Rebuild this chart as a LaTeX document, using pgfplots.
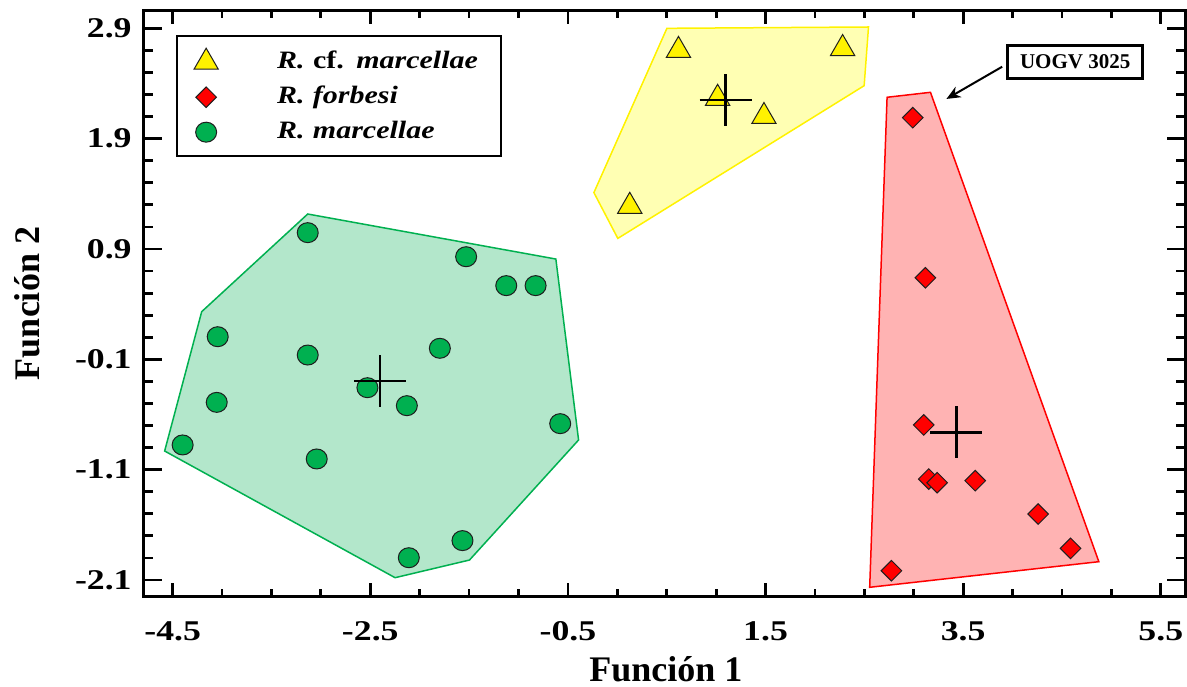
\documentclass[border=0pt]{standalone}
\usepackage{fontspec}
\setmainfont{Liberation Serif}
\newfontfamily\widefont{Liberation Serif}[FakeStretch=1.25]
\newfontfamily\legfont{Liberation Serif}[FakeStretch=1.2]
\usepackage{pgfplots}
\pgfplotsset{compat=1.18}
\usetikzlibrary{arrows.meta}
\definecolor{mgreen}{RGB}{0,176,80}
\definecolor{gfill}{RGB}{179,231,203}
\definecolor{rfill}{RGB}{255,179,179}
\definecolor{yfill}{RGB}{255,255,179}
\definecolor{medge}{RGB}{30,30,30}
\begin{document}
\begin{tikzpicture}
\begin{axis}[
  at={(0,0)}, anchor=south west,
  scale only axis,
  width=520.5pt, height=292.5pt,
  xmin=-4.79, xmax=5.745, ymin=-2.245, ymax=3.057,
  xtick={-4.5,-2.5,-0.5,1.5,3.5,5.5},
  xticklabels={-4.5,-2.5,-0.5,1.5,3.5,5.5},
  minor xtick={-4.5,-4,...,5.5},
  ytick={-2.1,-1.1,-0.1,0.9,1.9,2.9},
  yticklabels={-2.1,-1.1,-0.1,0.9,1.9,2.9},
  minor ytick={-2.1,-1.9,...,3.0},
  axis line style={line width=1.5pt},
  every tick/.style={black, line width=1.4pt},
  major x tick style={/pgfplots/major tick length=6.5pt},
  minor x tick style={/pgfplots/minor tick length=3.5pt},
  major y tick style={/pgfplots/major tick length=9pt},
  minor y tick style={/pgfplots/minor tick length=4.5pt},
  tick label style={font=\widefont\bfseries\fontsize{14.3}{16}\selectfont, inner sep=0pt},
  xticklabel style={anchor=base, yshift=-22pt},
  yticklabel style={anchor=east, xshift=-6pt},
  xlabel={Función 1},
  ylabel={Función 2},
  label style={font=\bfseries\fontsize{18}{20}\selectfont, inner sep=0pt},
  xlabel style={at={(axis description cs:0.5014,0)}, anchor=base, yshift=-42.5pt},
  ylabel style={at={(axis description cs:-0.1,0.5)}, anchor=base},
  legend style={
    at={(axis description cs:0.0307,0.959)}, anchor=north west,
    draw=black, line width=1.2pt, fill=white,
    inner xsep=0pt, inner ysep=6pt,
    font=\legfont\bfseries\fontsize{12.5}{14}\selectfont,
    row sep=5.5pt,
    nodes={inner sep=0pt, text height=9pt, text depth=3pt, text width=112pt, align=left},
  },
  legend cell align=left,
  legend image code/.code={%
    \path[draw=none, fill=none] (0pt,-6pt) rectangle (50pt,6pt);
    \draw[#1] plot coordinates {(14.5pt,0pt)};
  },
]
% convex hulls
\addplot[forget plot, fill=gfill, draw=mgreen, line width=0.75pt] coordinates {
  (-3.133,1.217) (-0.622,0.809) (-0.392,-0.831) (-1.496,-1.919)
  (-2.249,-2.079) (-4.581,-0.931) (-4.206,0.332)} -- cycle;
\addplot[forget plot, fill=yfill, draw=yellow, line width=0.75pt] coordinates {
  (0.502,2.900) (2.542,2.912) (2.498,2.380) (0.005,0.996) (-0.237,1.411)} -- cycle;
\addplot[forget plot, fill=rfill, draw=red, line width=0.75pt] coordinates {
  (2.730,2.275) (3.169,2.320) (4.873,-1.934) (2.554,-2.166)} -- cycle;
% groups
\addplot[only marks, mark=triangle*, mark size=7pt,
  mark options={fill=yellow, draw=medge, line width=0.5pt}] coordinates {
  (0.619,2.700) (2.280,2.717) (1.015,2.266) (1.484,2.101) (0.126,1.287)};
\addlegendentry{\textit{R.} cf. \textit{marcellae}}
\addplot[only marks, mark=square*, mark size=3.64pt,
  mark options={rotate=45, fill=red, draw=medge, line width=0.5pt}] coordinates {
  (2.990,2.090) (3.118,0.639) (3.101,-0.695) (3.152,-1.185) (3.237,-1.218)
  (3.622,-1.200) (4.259,-1.502) (4.587,-1.813) (2.774,-2.016)};
\addlegendentry{\textit{R. forbesi}}
\addplot[only marks, mark=*, mark size=5pt,
  mark options={xscale=1.05, fill=mgreen, draw=medge, line width=0.5pt}] coordinates {
  (-3.133,1.048) (-1.530,0.830) (-1.124,0.568) (-0.827,0.568) (-4.044,0.105)
  (-3.133,-0.061) (-1.796,0.000) (-2.529,-0.357) (-2.130,-0.520) (-4.054,-0.490)
  (-4.399,-0.876) (-3.042,-1.003) (-0.578,-0.683) (-1.567,-1.743) (-2.110,-1.898)};
\addlegendentry{\textit{R. marcellae}}
% group centroids
\addplot[forget plot, only marks, mark=+, mark size=13pt,
  mark options={draw=black, line width=1.2pt}] coordinates {
  (1.096,2.250) (-2.400,-0.299) (3.432,-0.762)};
% annotation
\node[draw=black, line width=1.3pt, fill=white, inner sep=0pt,
  minimum width=67.5pt, minimum height=16.5pt,
  font=\bfseries\fontsize{10.5}{12}\selectfont] at (axis cs:4.633,2.595) {UOGV 3025};
\draw[line width=1pt, -{Stealth[length=7pt,width=6pt]}]
  (axis cs:3.895,2.552) -- (axis cs:3.331,2.260);
\end{axis}
\pgfresetboundingbox
\path (-72pt,-45pt) rectangle (521.5pt,298pt);
\end{tikzpicture}
\end{document}
